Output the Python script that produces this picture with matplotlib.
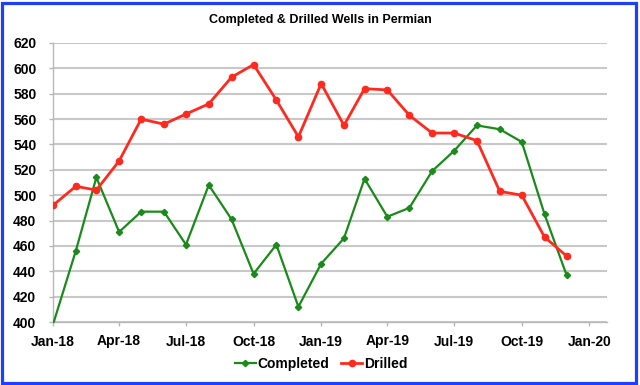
import matplotlib
matplotlib.use("Agg")
import matplotlib.pyplot as plt
import matplotlib.dates as mdates
from matplotlib.patches import Rectangle
import datetime as dt

plt.rcParams['font.family'] = ['Liberation Sans', 'DejaVu Sans']

months = ["2018-01", "2018-02", "2018-03", "2018-04", "2018-05", "2018-06",
          "2018-07", "2018-08", "2018-09", "2018-10", "2018-11", "2018-12",
          "2019-01", "2019-02", "2019-03", "2019-04", "2019-05", "2019-06",
          "2019-07", "2019-08", "2019-09", "2019-10", "2019-11", "2019-12"]
completed = [398, 456, 514, 471, 487, 487, 461, 508, 481, 438, 461, 412,
             446, 466, 513, 483, 490, 519, 535, 555, 552, 542, 485, 437]
drilled = [492, 507, 504, 527, 560, 556, 564, 572, 593, 603, 575, 546,
           588, 555, 584, 583, 563, 549, 549, 543, 503, 500, 467, 452]
title = "Completed & Drilled Wells in Permian"

dates = [dt.datetime.strptime(m, "%Y-%m") for m in months]

W, H = 640, 385
fig = plt.figure(figsize=(W / 100, H / 100), dpi=100)
ax = fig.add_axes([53 / W, 1 - 322 / H, (607 - 53) / W, (322 - 43) / H])

green = '#1a8a1a'
red = '#ff2a1f'
ax.plot(dates, completed, color=green, lw=1.6, marker='D', ms=3.2,
        label='Completed', zorder=3)
ax.plot(dates, drilled, color=red, lw=2.0, marker='o', ms=4.5,
        label='Drilled', zorder=4)

ax.set_ylim(400, 620)
ax.set_yticks(range(400, 621, 20))
ax.set_xlim(dt.datetime(2018, 1, 1), dt.datetime(2020, 1, 25))
ax.xaxis.set_major_locator(mdates.MonthLocator(bymonth=[1, 4, 7, 10]))
ax.xaxis.set_major_formatter(mdates.DateFormatter('%b-%y'))

ax.grid(axis='y', color='#c8c8c8', lw=1.5, zorder=0)
ax.set_axisbelow(True)
for s in ['top', 'right']:
    ax.spines[s].set_visible(False)
for s in ['left', 'bottom']:
    ax.spines[s].set_color('#b8b8b8')
    ax.spines[s].set_linewidth(1.0)
ax.tick_params(axis='y', length=3, width=1, color='#b8b8b8', pad=9,
               labelsize=10)
ax.tick_params(axis='x', length=3, width=1, color='#b8b8b8', pad=6,
               labelsize=10)
for lbl in ax.get_xticklabels() + ax.get_yticklabels():
    lbl.set_fontweight('bold')

fig.text(0.5, 1 - 20 / H, title, ha='center', va='center',
         fontsize=9, fontweight='bold')

leg = fig.legend(loc='center', bbox_to_anchor=(321 / W, 1 - 364 / H), ncol=2,
                 frameon=False, handlelength=1.5, handletextpad=0.1,
                 columnspacing=0.9, prop={'weight': 'bold', 'size': 10})

fig.patches.append(Rectangle((2 / W, 2 / H), (636 - 2) / W, (382 - 2) / H,
                             transform=fig.transFigure, fill=False,
                             edgecolor='#1f3fff', lw=2.3, zorder=10))

fig.savefig('out.png', dpi=100)
